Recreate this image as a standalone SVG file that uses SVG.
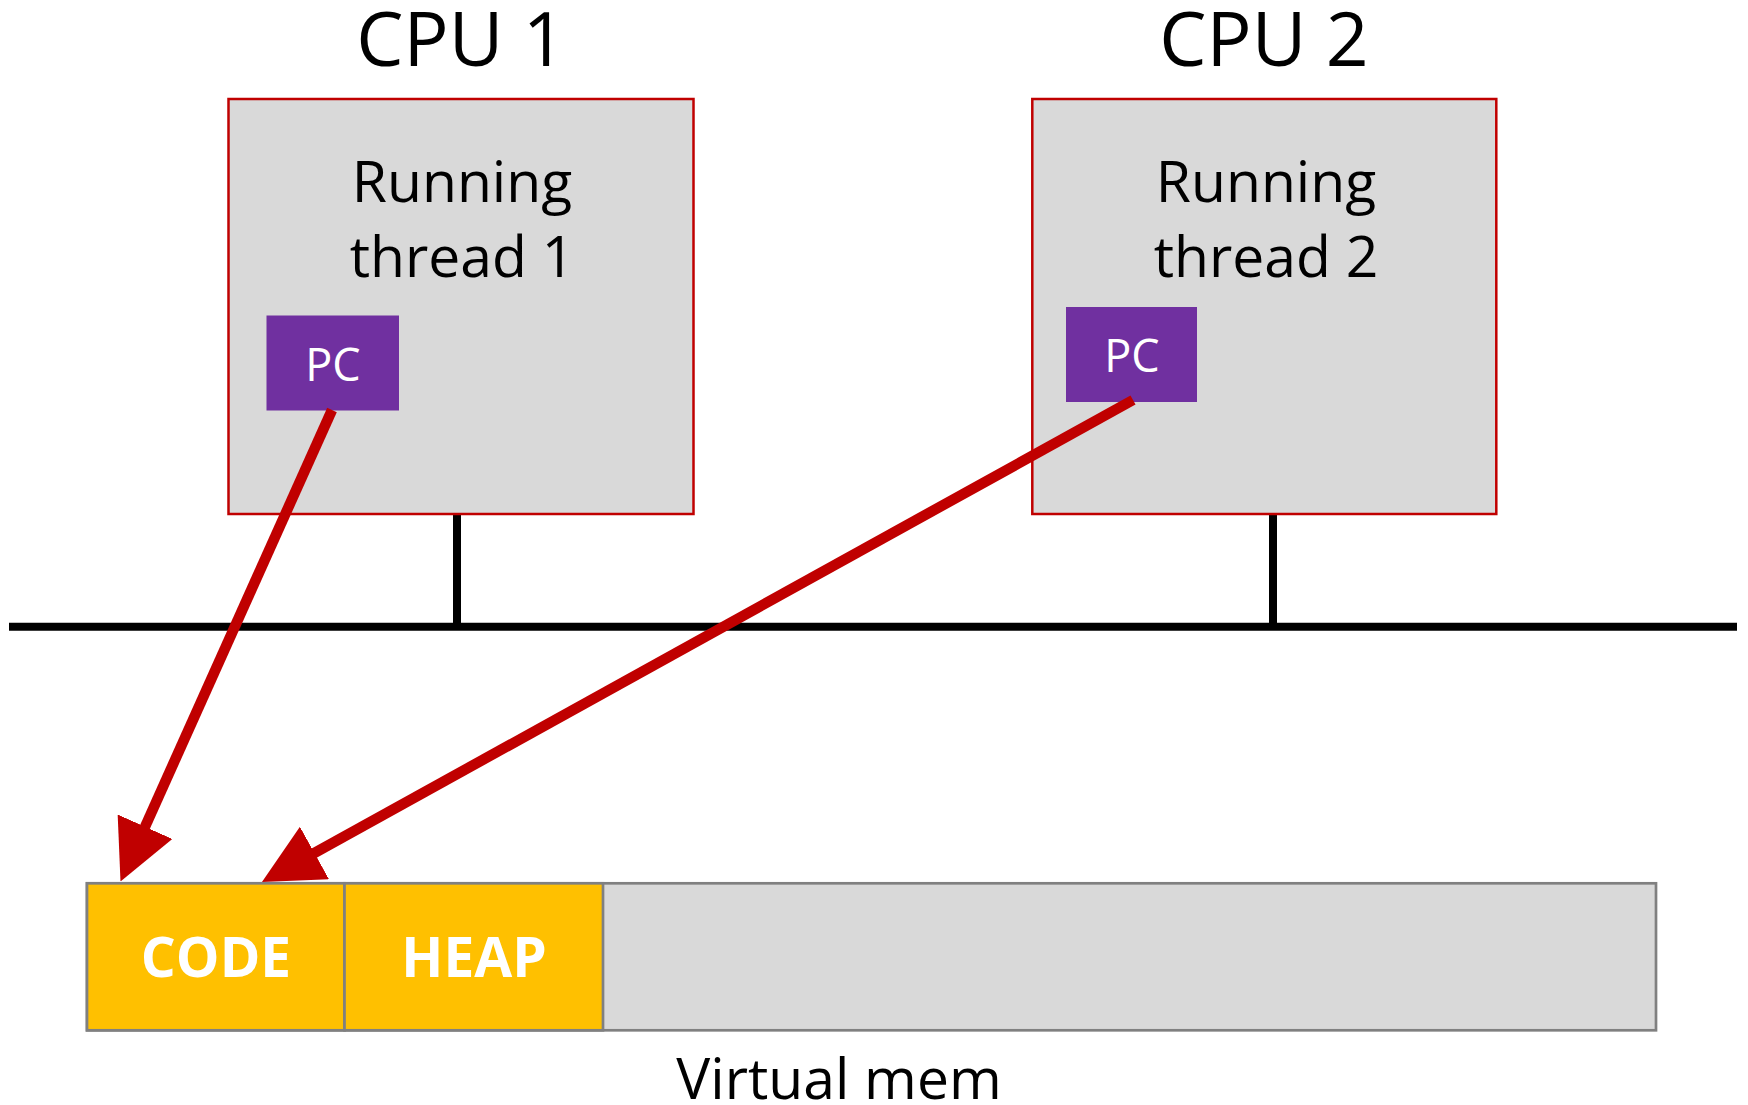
<svg xmlns="http://www.w3.org/2000/svg" width="1748" height="1105" viewBox="0 0 1748 1105">
  <style>
    .txt { font-family: "Open Sans", "Noto Sans", "Liberation Sans", sans-serif; fill: #000; text-anchor: middle; }
    .cpu-box { fill: #D9D9D9; stroke: #C00000; stroke-width: 2.5; }
    .pc-box { fill: #7030A0; }
    .pc-txt { font-family: "Open Sans", "Noto Sans", "Liberation Sans", sans-serif; fill: #FFFFFF; text-anchor: middle; font-size: 45px; }
    .mem { stroke: #808080; stroke-width: 2.7; }
    .seg-txt { font-family: "Open Sans", "Noto Sans", "Liberation Sans", sans-serif; font-weight: bold; fill: #FFFFFF; text-anchor: middle; font-size: 55px; }
    .wire { stroke: #000; stroke-width: 8; fill: none; }
    .arrow { stroke: #C00000; stroke-width: 10.5; fill: none; marker-end: url(#head); }
  </style>
  <defs>
    <marker id="head" markerUnits="userSpaceOnUse" viewBox="0 0 60 60" refX="5" refY="30" markerWidth="60" markerHeight="60" orient="auto">
      <path d="M0,0 L60,30 L0,60 Z" fill="#C00000"/>
    </marker>
  </defs>

  <g id="bus">
    <line class="wire" x1="9" y1="626.7" x2="1737" y2="626.7"/>
    <line class="wire" x1="457" y1="514" x2="457" y2="626"/>
    <line class="wire" x1="1273" y1="514" x2="1273" y2="626"/>
  </g>

  <g id="cpu1">
    <text class="txt" x="461" y="66" font-size="75">CPU 1</text>
    <rect class="cpu-box" x="228.5" y="99" width="465" height="415"/>
    <text class="txt" x="462" y="201.5" font-size="57">Running</text>
    <text class="txt" x="462" y="277" font-size="57">thread 1</text>
  </g>
  <g id="pc1">
    <rect class="pc-box" x="266.5" y="315.5" width="132.5" height="95"/>
    <text class="pc-txt" x="333" y="381">PC</text>
  </g>

  <g id="cpu2">
    <text class="txt" x="1264" y="66" font-size="75">CPU 2</text>
    <rect class="cpu-box" x="1032.3" y="99" width="464" height="415"/>
    <text class="txt" x="1266" y="201.5" font-size="57">Running</text>
    <text class="txt" x="1266" y="277" font-size="57">thread 2</text>
  </g>
  <g id="pc2">
    <rect class="pc-box" x="1066" y="307" width="131" height="95"/>
    <text class="pc-txt" x="1132" y="372">PC</text>
  </g>

  <g id="memory">
    <rect class="mem" x="87" y="883.3" width="1569" height="147" fill="#D9D9D9"/>
    <g id="code">
      <rect class="mem" x="87" y="883.3" width="257.5" height="147" fill="#FFC000"/>
      <text class="seg-txt" x="216" y="977">CODE</text>
    </g>
    <g id="heap">
      <rect class="mem" x="344.5" y="883.3" width="258.5" height="147" fill="#FFC000"/>
      <text class="seg-txt" x="474" y="977">HEAP</text>
    </g>
    <text class="txt" x="839" y="1099" font-size="57">Virtual mem</text>
  </g>

  <g id="connectors">
    <line class="arrow" x1="332" y1="410" x2="143" y2="831.3"/>
    <line class="arrow" x1="1133" y1="400" x2="310.1" y2="855.4"/>
  </g>
</svg>
